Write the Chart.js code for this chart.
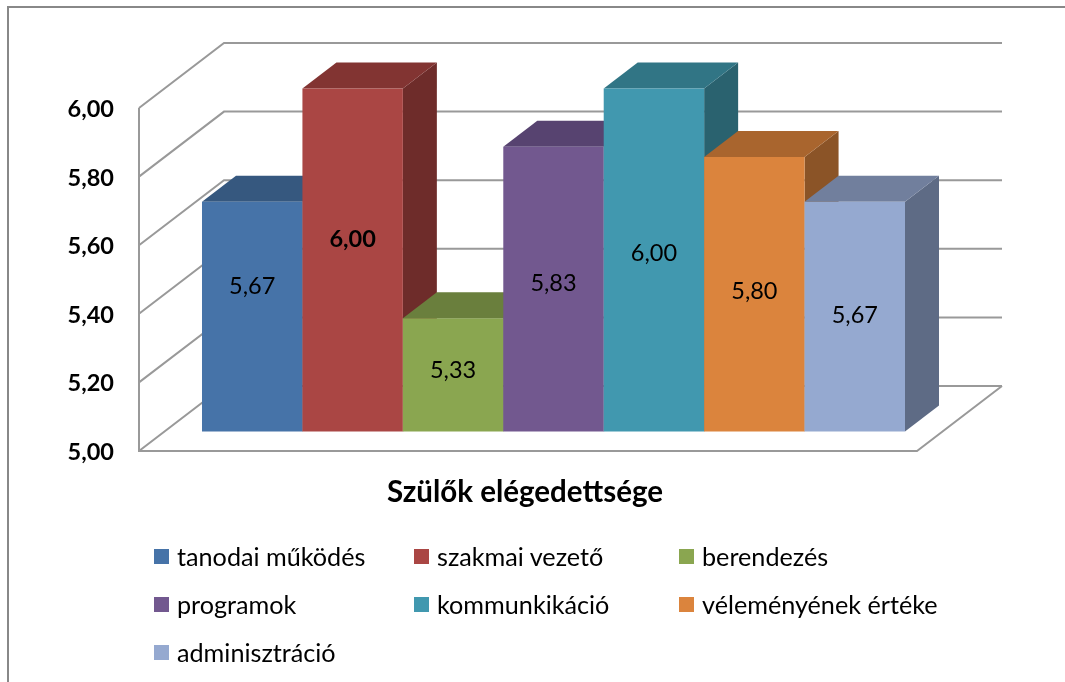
<!DOCTYPE html>
<html>
<head>
<meta charset="utf-8">
<script src="https://cdn.jsdelivr.net/npm/chart.js@4"></script>
<style>
    html, body { margin: 0; background: #fff; overflow: hidden; }
    #frame { position: absolute; left: 7px; top: 6px; right: 0; bottom: 0; border-left: 2px solid #888; border-top: 2px solid #888; }
    #wrap { position: absolute; left: 0; top: 0; width: 1065px; height: 682px; }
    #legend { position: absolute; left: 154px; top: 532px; display: grid; grid-template-columns: 260px 265px auto; grid-auto-rows: 48.2px;
        font: 25.2px Lato, sans-serif; color: #000; }
    #legend div { display: flex; align-items: center; height: 48px; white-space: nowrap; }
    #legend i { width: 15px; height: 15px; margin-right: 8px; display: block; }
</style>
</head>
<body>
<div id="frame"></div>
<div id="wrap"><canvas id="chart" width="1065" height="682"></canvas></div>
<div id="legend"></div>
<script>
const chartTitle = ['Szülők elégedettsége'];
const seriesNames = ['tanodai működés', 'szakmai vezető', 'berendezés', 'programok', 'kommunkikáció', 'véleményének értéke', 'adminisztráció'];
const seriesValues = [5.67, 6.00, 5.33, 5.83, 6.00, 5.80, 5.67];
const frontColors = ['#4673a8', '#aa4644', '#8aa650', '#72588f', '#4198af', '#db843d', '#95a9d0'];
const topColors = ['#36587f', '#823432', '#6a7f3d', '#574370', '#317585', '#a9652e', '#717f9d'];
const sideColors = ['#2f4e72', '#6e2c2a', '#5d6f35', '#4c3a61', '#2a626f', '#8b5427', '#5e6b85'];

// how far the value labels sit from the middle of their bar
const labelShift = [-30, -21, -4, -6, -7, -3, -1];

const wallDepth = { x: 85, y: -65 };
const barDepth = { x: 34, y: -26 };
const barShift = { x: 25.5, y: -19.5 };
const fontFamily = 'Lato, sans-serif';
const comma = v => v.toFixed(2).replace('.', ',');

function polygon(ctx, points, color) {
    ctx.fillStyle = color;
    ctx.beginPath();
    points.forEach((p, i) => i ? ctx.lineTo(p[0], p[1]) : ctx.moveTo(p[0], p[1]));
    ctx.closePath();
    ctx.fill();
}

/**
 *  Draws the walls, the floor and then the bars from left to right, so a bar covers the side of its left neighbour.
 */
const box3d = {
    id: 'box3d',
    beforeDatasetsDraw(chart) {
        const ctx = chart.ctx;
        const area = chart.chartArea;
        const yScale = chart.scales.y;

        ctx.save();
        ctx.strokeStyle = '#999';
        ctx.lineWidth = 2;
        ctx.lineJoin = 'miter';
        yScale.ticks.forEach(tick => {
            const y = yScale.getPixelForValue(tick.value);
            ctx.beginPath();
            ctx.moveTo(area.left, y);
            ctx.lineTo(area.left + wallDepth.x, y + wallDepth.y);
            ctx.lineTo(area.right + wallDepth.x, y + wallDepth.y);
            ctx.stroke();
        });
        ctx.beginPath();
        ctx.moveTo(area.left, area.top);
        ctx.lineTo(area.left, area.bottom);
        ctx.lineTo(area.right, area.bottom);
        ctx.lineTo(area.right + wallDepth.x, area.bottom + wallDepth.y);
        ctx.stroke();
        ctx.restore();

        ctx.save();
        ctx.translate(barShift.x, barShift.y);
        seriesValues.forEach((value, i) => {
            const meta = chart.getDatasetMeta(i);
            const bar = meta.data[0];
            const left = bar.x - bar.width / 2;
            const right = bar.x + bar.width / 2;
            polygon(ctx, [[right, bar.y], [right + barDepth.x, bar.y + barDepth.y],
                [right + barDepth.x, bar.base + barDepth.y], [right, bar.base]], sideColors[i]);
            polygon(ctx, [[left, bar.y], [left + barDepth.x, bar.y + barDepth.y],
                [right + barDepth.x, bar.y + barDepth.y], [right, bar.y]], topColors[i]);
            meta.controller.draw();
        });
        ctx.restore();
        return false;
    },
    afterDraw(chart) {
        const ctx = chart.ctx;
        ctx.save();
        ctx.textAlign = 'center';
        ctx.textBaseline = 'middle';
        ctx.fillStyle = '#000';
        seriesValues.forEach((value, i) => {
            const bar = chart.getDatasetMeta(i).data[0];
            ctx.font = (i === 1 ? 'bold ' : '') + '23.5px ' + fontFamily;
            ctx.fillText(comma(value), bar.x + barShift.x, (bar.y + bar.base) / 2 + barShift.y + labelShift[i]);
        });
        ctx.restore();
    }
};

new Chart(document.getElementById('chart').getContext('2d'), {
    type: 'bar',
    data: {
        labels: chartTitle,
        datasets: seriesNames.map((name, i) => ({
            label: name,
            data: [seriesValues[i]],
            base: 5,
            backgroundColor: frontColors[i],
            borderWidth: 0,
            barPercentage: 1,
            categoryPercentage: 0.9036
        }))
    },
    options: {
        responsive: false,
        animation: false,
        layout: { padding: { left: 0, top: 108, right: 148, bottom: 0 } },
        plugins: { legend: { display: false }, tooltip: { enabled: false } },
        scales: {
            x: {
                grid: { display: false },
                border: { display: false },
                ticks: { padding: 16, labelOffset: -3, color: '#000', maxRotation: 0, font: { family: fontFamily, size: 29.5, weight: 'bold' } },
                afterFit: scale => { scale.height = 231; }
            },
            y: {
                min: 5,
                max: 6,
                grid: { display: false },
                border: { display: false },
                ticks: { stepSize: 0.2, padding: 17, labelOffset: 1.5, color: '#000', callback: v => comma(v), font: { family: fontFamily, size: 23.5, weight: 'bold' } },
                afterFit: scale => { scale.width = 139; }
            }
        }
    },
    plugins: [box3d]
});

// the legend keeps three fixed columns, which the built in one cannot do
document.getElementById('legend').innerHTML = seriesNames.map((name, i) =>
    '<div><i style="background:' + frontColors[i] + '"></i>' + name + '</div>').join('');
</script>
</body>
</html>
